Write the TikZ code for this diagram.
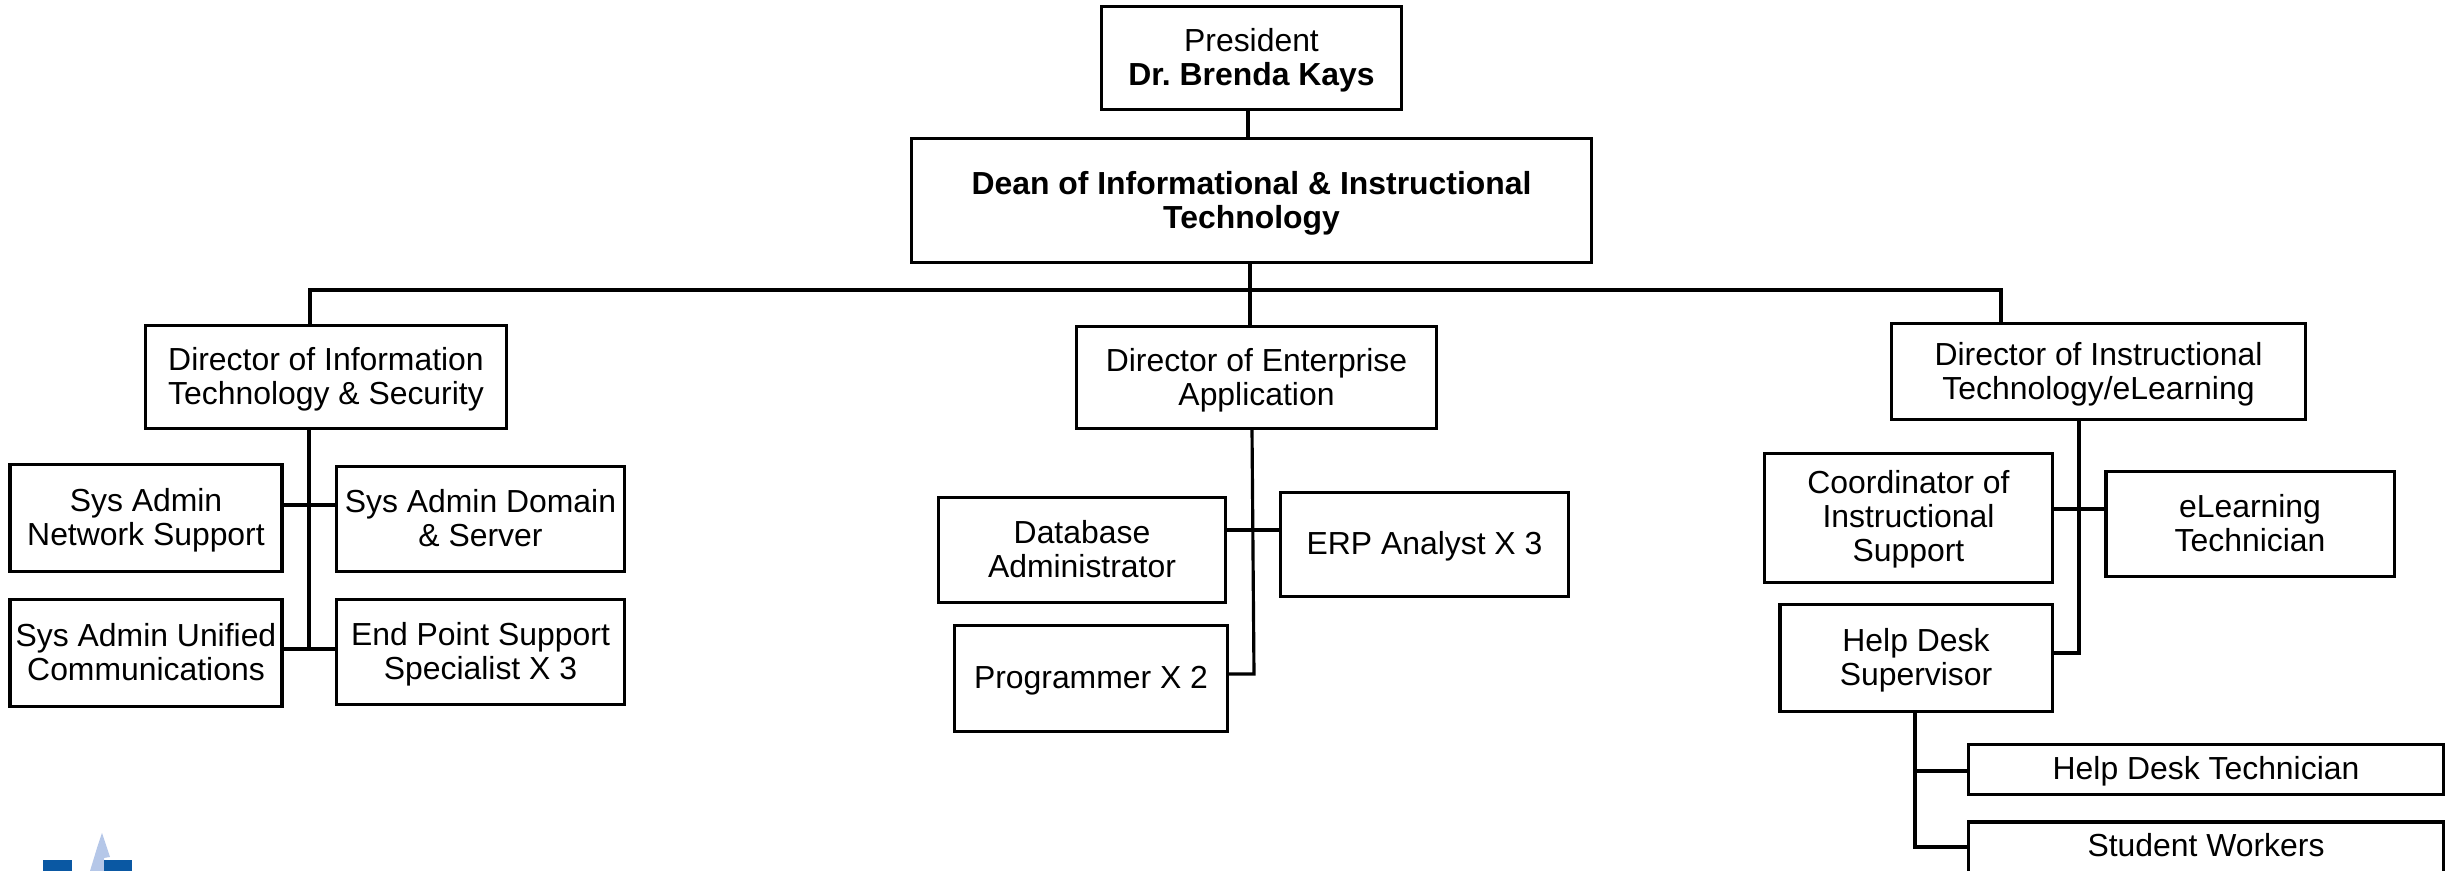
\documentclass[tikz,border=0pt]{standalone}
\usepackage{fontspec}
\setmainfont{Liberation Sans}

\definecolor{logodark}{RGB}{10,88,163}
\definecolor{logolight}{RGB}{181,199,232}

\tikzset{
    orgbox/.style={draw=black, line width=0.9pt, align=center, inner sep=0pt, outer sep=0pt,
        font=\fontsize{9.07}{9.65}\selectfont\frenchspacing, text height=8pt, text depth=2.2pt},
    twolines/.style={text height=18pt},
    threelines/.style={text height=27pt},
    orgline/.style={black, line width=0.9pt}
}

\begin{document}
\begin{tikzpicture}[x=0.01cm, y=-0.01cm]
            \useasboundingbox (0,0) rectangle (2453,871);

            % top of the chart
            \node[orgbox, twolines, minimum width=3cm, minimum height=1.03cm] (president) at (1251.5,58) {President\\\textbf{Dr. Brenda Kays}};
            \node[orgbox, twolines, minimum width=6.8cm, minimum height=1.24cm] (dean) at (1251.5,200.5) {\textbf{Dean of Informational \& Instructional}\\\textbf{Technology}};
            \coordinate (bus) at (1250,290);

            % directors
            \node[orgbox, twolines, minimum width=3.6cm, minimum height=1.03cm] (dirit) at (326,377) {Director of Information\\Technology \& Security};
            \node[orgbox, twolines, minimum width=3.6cm, minimum height=1.02cm] (dirent) at (1256.5,377.5) {Director of Enterprise\\Application};
            \node[orgbox, twolines, minimum width=4.14cm, minimum height=0.96cm] (dirinst) at (2098.5,371.5) {Director of Instructional\\Technology/eLearning};

            % information technology
            \node[orgbox, twolines, minimum width=2.72cm, minimum height=1.07cm] (network) at (146,518) {Sys Admin\\Network Support};
            \node[orgbox, twolines, minimum width=2.88cm, minimum height=1.05cm] (domain) at (480.5,519) {Sys Admin Domain\\\& Server};
            \node[orgbox, twolines, minimum width=2.72cm, minimum height=1.07cm] (unified) at (146,653) {Sys Admin Unified\\Communications};
            \node[orgbox, twolines, minimum width=2.88cm, minimum height=1.05cm] (endpoint) at (480.5,652) {End Point Support\\Specialist X 3};

            % enterprise application
            \node[orgbox, twolines, minimum width=2.87cm, minimum height=1.05cm] (dbadmin) at (1082,550) {Database\\Administrator};
            \node[orgbox, minimum width=2.88cm, minimum height=1.04cm] (erp) at (1424.5,544.5) {ERP Analyst X 3};
            \node[orgbox, minimum width=2.73cm, minimum height=1.06cm] (programmer) at (1091,678.5) {Programmer X 2};

            % instructional technology
            \node[orgbox, threelines, minimum width=2.88cm, minimum height=1.29cm] (coordinator) at (1908.5,518) {Coordinator of\\Instructional\\Support};
            \node[orgbox, twolines, minimum width=2.88cm, minimum height=1.05cm] (elearning) at (2250,524) {eLearning\\Technician};
            \node[orgbox, twolines, minimum width=2.72cm, minimum height=1.07cm] (helpdesk) at (1916,658) {Help Desk\\Supervisor};
            \node[orgbox, minimum width=4.755cm, minimum height=0.5cm] (technician) at (2206,769.5) {Help Desk Technician};
            \node[orgbox, minimum width=4.755cm, text height=0.34cm, text depth=0.42cm, anchor=north] (workers) at (2206,822) {Student Workers};

            % connectors
            \draw[orgline] (president.south -| 1248,0) -- (dean.north -| 1248,0);
            \draw[orgline] (dean.south -| bus) -- (dirent.north -| bus);
            \draw[orgline] (dirit.north -| 310,0) |- (bus) -| (dirinst.north -| 2001,0);

            \draw[orgline] (dirit.south -| 309,0) -- (309,649);
            \draw[orgline] (network.east |- 0,505) -- (domain.west |- 0,505);
            \draw[orgline] (unified.east |- 0,649) -- (endpoint.west |- 0,649);

            \draw[orgline] (dirent.south -| 1252,0) -- (1254,674) -- (programmer.east |- 0,674);
            \draw[orgline] (dbadmin.east |- 0,530) -- (erp.west |- 0,530);

            \draw[orgline] (dirinst.south -| 2079,0) -- (2079,653) -- (helpdesk.east |- 0,653);
            \draw[orgline] (coordinator.east |- 0,509) -- (elearning.west |- 0,509);

            \draw[orgline] (helpdesk.south -| 1915,0) -- (1915,847) -- (workers.west |- 0,847);
            \draw[orgline] (1915,771) -- (technician.west |- 0,771);

            % logo
            \fill[logolight] (102,833) -- (110,857) -- (104,858) -- (104,871) -- (90,871) -- (97,848) -- cycle;
            \fill[logodark] (43,860) rectangle (72,871);
            \fill[logodark] (104,860) rectangle (132,871);
        \end{tikzpicture}
\end{document}
